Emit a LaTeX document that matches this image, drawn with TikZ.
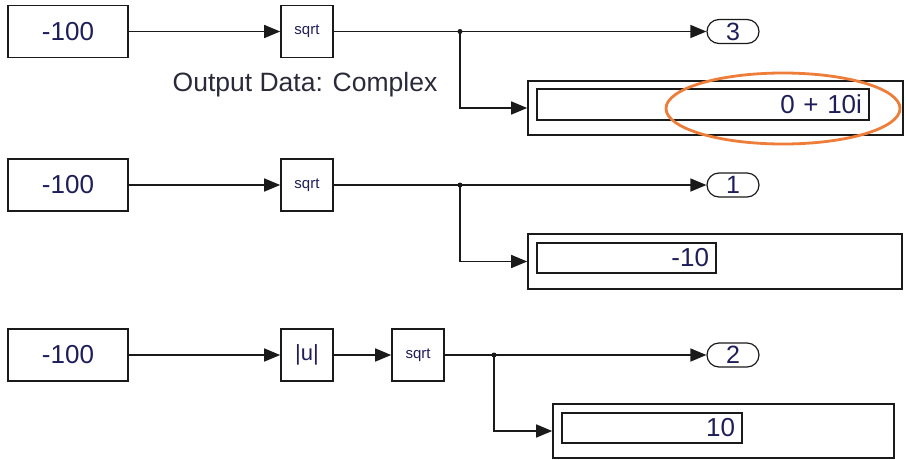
\documentclass[tikz,border=0pt]{standalone}
\usepackage{fontspec}
\setmainfont{Liberation Sans}
\usetikzlibrary{arrows.meta,shapes.geometric}
\definecolor{txt}{HTML}{1E1E5A}
\definecolor{lbltxt}{HTML}{2A2A3A}
\definecolor{ln}{HTML}{1A1A1A}
\definecolor{hl}{HTML}{EE7D3A}
\tikzset{
  blk/.style={draw=ln,line width=1.6pt,fill=white,inner sep=0pt,text=txt},
  constblk/.style={blk,minimum width=120pt,minimum height=52pt,font=\fontsize{26}{28}\selectfont},
  fnblk/.style={blk,minimum width=52pt,minimum height=52pt,font=\fontsize{15}{17}\selectfont},
  absblk/.style={blk,minimum width=52pt,minimum height=52pt,font=\fontsize{22}{24}\selectfont},
  outport/.style={draw=ln,line width=1.2pt,rounded corners=12pt,minimum width=52pt,minimum height=24pt,inner sep=0pt,text=txt,font=\fontsize{25}{25}\selectfont},
  dispouter/.style={draw=ln,line width=1.6pt,inner sep=0pt},
  dispinner/.style={draw=ln,line width=1.6pt,inner xsep=7pt,inner ysep=0pt,align=right,text=txt,font=\fontsize{26}{28}\selectfont},
  wire/.style={ln,line width=1.5pt},
  arr/.style={wire,-{Triangle[length=16pt,width=13pt]}},
  dot/.style={circle,fill=ln,inner sep=0pt,minimum size=5pt},
}
\begin{document}
\begin{tikzpicture}[x=1pt,y=-1pt]
\useasboundingbox (0,0) rectangle (906,459);
% ---------- row 1 ----------
\node[constblk] (c1) at (68,31.5) {-100};
\node[fnblk] (s1) at (307,31.5) {sqrt};
\node[outport] (o1) at (733,31.5) {3};
\node[dot] (b1) at (460,31.5) {};
\node[dispouter,minimum width=375pt,minimum height=54pt] (d1) at (715.5,108) {};
\node[dispinner,text width=318pt,minimum height=31pt] (v1) at (703,104.5) {0 + 10i};
\node[text=lbltxt,font=\fontsize{26.5}{28}\selectfont] (lbl) at (305,85) {Output Data: Complex};
\draw[arr] (c1.east) -- (s1.west);
\draw[wire] (s1.east) -- (b1.center);
\draw[arr] (b1.center) -- (o1.west);
\draw[arr] (b1.center) |- (d1.west);
\draw[hl,line width=2.8pt] (783,108.5) ellipse [x radius=117, y radius=35.5];
% ---------- row 2 ----------
\node[constblk] (c2) at (68,185) {-100};
\node[fnblk] (s2) at (307,185) {sqrt};
\node[outport] (o2) at (733,185) {1};
\node[dot] (b2) at (460,185) {};
\node[dispouter,minimum width=374pt,minimum height=55pt] (d2) at (715,261.5) {};
\node[dispinner,text width=165pt,minimum height=30pt] (v2) at (626.5,258) {-10};
\draw[arr] (c2.east) -- (s2.west);
\draw[wire] (s2.east) -- (b2.center);
\draw[arr] (b2.center) -- (o2.west);
\draw[arr] (b2.center) |- (d2.west);
% ---------- row 3 ----------
\node[constblk] (c3) at (68,355) {-100};
\node[absblk] (a3) at (307,355) {|u|};
\node[fnblk] (s3) at (418,355) {sqrt};
\node[outport] (o3) at (733,355) {2};
\node[dot] (b3) at (494,355) {};
\node[dispouter,minimum width=341pt,minimum height=54pt] (d3) at (723.5,431) {};
\node[dispinner,text width=166pt,minimum height=30pt] (v3) at (652,428) {10};
\draw[arr] (c3.east) -- (a3.west);
\draw[arr] (a3.east) -- (s3.west);
\draw[wire] (s3.east) -- (b3.center);
\draw[arr] (b3.center) -- (o3.west);
\draw[arr] (b3.center) |- (d3.west);
\end{tikzpicture}
\end{document}
